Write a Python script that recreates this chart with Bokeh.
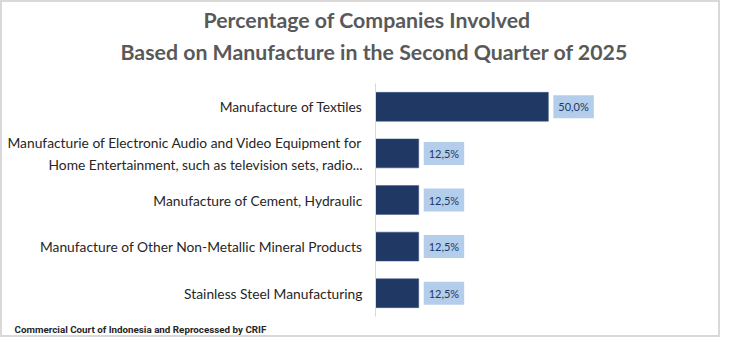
from bokeh.plotting import figure
from bokeh.models import FactorRange, Range1d, ColumnDataSource, Title
from bokeh.core.properties import value
from bokeh.embed import file_html
from bokeh.resources import INLINE

categories = [
    "Manufacture of Textiles",
    "Manufacturie of Electronic Audio and Video Equipment for\nHome Entertainment, such as television sets, radio...",
    "Manufacture of Cement, Hydraulic",
    "Manufacture of Other Non-Metallic Mineral Products",
    "Stainless Steel Manufacturing",
]
values = [50.0, 12.5, 12.5, 12.5, 12.5]
value_labels = ["50,0%", "12,5%", "12,5%", "12,5%", "12,5%"]
title_lines = ["Percentage of Companies Involved",
               "Based on Manufacture in the Second Quarter of 2025"]
source_note = "Commercial Court of Indonesia and Reprocessed by CRIF"

W, H = 720, 337
FL, FT, FW, FH = 373, 81, 242, 235
src = ColumnDataSource(dict(cat=categories, val=values, lab=value_labels))

p = figure(width=W, height=H, output_backend="svg", toolbar_location=None,
           y_range=FactorRange(factors=list(reversed(categories)), range_padding=0),
           x_range=Range1d(0, 70))
p.styles = {"border": "2px solid #d9d9d9"}
p.min_border_left = FL
p.min_border_right = W - FL - FW
p.min_border_top = FT
p.min_border_bottom = H - FT - FH
p.outline_line_color = None
p.background_fill_color = "white"
p.border_fill_color = "white"
p.xgrid.visible = False
p.ygrid.visible = False
p.xaxis.visible = False

ax = p.yaxis[0]
ax.axis_line_color = "#d9d9d9"
ax.axis_line_width = 1
ax.major_tick_line_color = None
ax.minor_tick_line_color = None
ax.major_tick_out = 0
ax.major_tick_in = 0
ax.major_label_standoff = 13
ax.major_label_text_font = "Lato"
ax.major_label_text_font_size = "13.8px"
ax.major_label_text_line_height = 1.3
ax.major_label_text_color = "#262626"

p.hbar(y="cat", right="val", left=0, height=0.62, source=src,
       fill_color="#203864", line_color="#3a5080", line_width=0.5)

p.text(x="val", y="cat", text="lab", source=src, x_offset=5,
       text_align="left", text_baseline="middle",
       text_font=value("Lato"), text_font_size="11px", text_color="#203864",
       background_fill_color="#b4cdea", padding=5)

t2 = Title(text=title_lines[1], align="left", offset=-255,
           text_font="Lato", text_font_style="bold", text_font_size="21.3px",
           text_color="#595959", standoff=36.5)
t1 = Title(text=title_lines[0], align="left", offset=-172,
           text_font="Lato", text_font_style="bold", text_font_size="21.3px",
           text_color="#595959", standoff=-29)
p.add_layout(t2, "above")
p.add_layout(t1, "above")

ts = Title(text=source_note, align="left", offset=-(FL - 12),
           text_font="Roboto", text_font_style="bold", text_font_size="9.8px",
           text_color="#262626", standoff=10)
p.add_layout(ts, "below")

open("out.html", "w").write(file_html(p, INLINE))
